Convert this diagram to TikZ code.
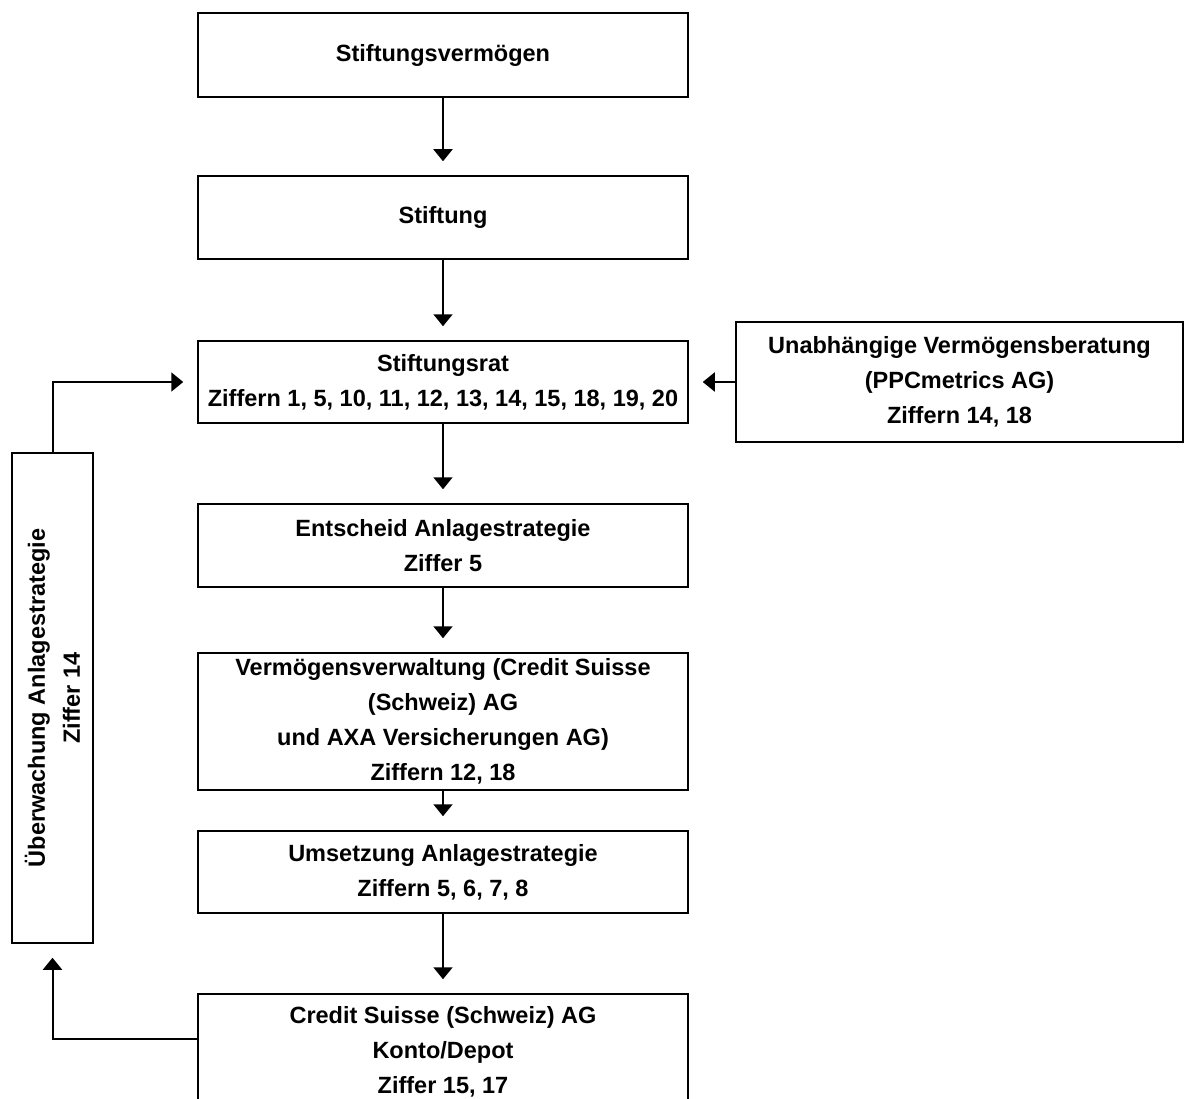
\documentclass[tikz,border=0pt]{standalone}
\usepackage{fontspec}
\setmainfont{Liberation Sans}
\usetikzlibrary{arrows.meta}
\tikzset{
  kasten/.style={draw, line width=1.5pt, inner sep=0pt, align=center,
    minimum width=490pt, font=\bfseries\fontsize{23.5}{35}\selectfont},
  pfeil/.style={line width=2pt, -{Triangle[width=19pt,length=12pt]},
    shorten >=14pt},
}
\begin{document}
\begin{tikzpicture}[x=1pt, y=-1pt]
        \path[use as bounding box, clip] (0,0) rectangle (1185,1099);
        \node[kasten, minimum height=84pt] (vermoegen) at (443,55)
        {Stiftungsvermögen};
        \node[kasten, minimum height=83pt] (stiftung) at (443,217.5)
        {Stiftung};
        \node[kasten, minimum height=82pt] (rat) at (443,382)
        {Stiftungsrat\\Ziffern 1, 5, 10, 11, 12, 13, 14, 15, 18, 19, 20};
        \node[kasten, minimum width=447pt, minimum height=120pt] (berat)
        at (959.5,382)
        {Unabhängige Vermögensberatung\\(PPCmetrics AG)\\Ziffern 14, 18};
        \node[kasten, minimum height=83pt] (entscheid) at (443,545.5)
        {Entscheid Anlagestrategie\\Ziffer 5};
        \node[kasten, minimum height=137pt] (verwaltung) at (443,721.5)
        {Vermögensverwaltung (Credit Suisse\\(Schweiz) AG\\
          und AXA Versicherungen AG)\\Ziffern 12, 18};
        \node[kasten, minimum height=82pt] (umsetzung) at (443,872)
        {Umsetzung Anlagestrategie\\Ziffern 5, 6, 7, 8};
        \node[kasten, minimum height=116pt] (depot) at (443,1052)
        {Credit Suisse (Schweiz) AG\\Konto/Depot\\Ziffer 15, 17};
        % rotated: east is the top, west the bottom
        \node[kasten, rotate=90, minimum width=490pt, minimum height=81pt]
        (ueberw) at (52.5,698)
        {Überwachung Anlagestrategie\\Ziffer 14};

        \draw[pfeil] (vermoegen) -- (stiftung);
        \draw[pfeil] (stiftung) -- (rat);
        \draw[pfeil] (rat) -- (entscheid);
        \draw[pfeil] (entscheid) -- (verwaltung);
        \draw[pfeil] (verwaltung) -- (umsetzung);
        \draw[pfeil] (umsetzung) -- (depot);
        \draw[pfeil] (berat) -- (rat);
        \draw[pfeil] (ueberw.east) |- (rat.west);
        \draw[pfeil] ([yshift=13pt]depot.west) -| (ueberw.west);
\end{tikzpicture}
\end{document}
